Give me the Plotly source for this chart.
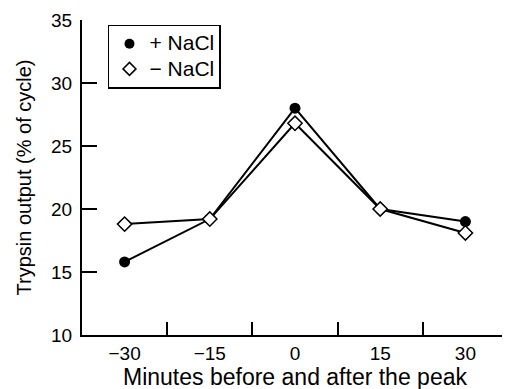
import plotly.graph_objects as go

minutes = [-30, -15, 0, 15, 30]
with_nacl = [15.8, 19.2, 28.0, 20.0, 19.0]
without_nacl = [18.8, 19.2, 26.8, 20.0, 18.1]
x_tick_labels = ["\u221230", "\u221215", "0", "15", "30"]
x_tick_marks = [-22.5, -7.5, 7.5, 22.5, 37.5]
y_ticks = [10, 15, 20, 25, 30, 35]
series_names = ["+ NaCl", "\u2212 NaCl"]

filled = dict(symbol="circle", size=11, color="black")
open_d = dict(symbol="diamond", size=11, color="white", line=dict(color="black", width=1.5))

def big(t):
    return "<span style='font-size:21px'>" + t + "</span>"

fig = go.Figure()
fig.add_trace(go.Scatter(
    x=minutes, y=with_nacl, mode="lines+markers", name=series_names[0], showlegend=False,
    line=dict(color="black", width=2), marker=filled,
))
fig.add_trace(go.Scatter(
    x=minutes, y=without_nacl, mode="lines+markers", name=series_names[1], showlegend=False,
    line=dict(color="black", width=2), marker=open_d,
))
# legend entries (markers only, as in the reference)
fig.add_trace(go.Scatter(x=[None], y=[None], mode="markers", name=big(series_names[0]),
                         marker=dict(symbol="circle", size=10, color="black")))
fig.add_trace(go.Scatter(x=[None], y=[None], mode="markers", name=big(series_names[1]),
                         marker=dict(symbol="diamond", size=10, color="white", line=dict(color="black", width=1.5))))

# the page body adds an 8px offset; margins compensate for it
font = "Liberation Sans, Arial, sans-serif"
fig.update_layout(
    width=510, height=389,
    margin=dict(l=74, r=10, t=12, b=62),
    paper_bgcolor="white", plot_bgcolor="white",
    font=dict(family=font, size=18, color="black"),
    showlegend=True,
    legend=dict(
        x=0.061, y=0.985, xanchor="left", yanchor="top",
        bordercolor="black", borderwidth=1.5, bgcolor="white",
        font=dict(size=17), tracegroupgap=0, itemwidth=30,
    ),
    xaxis=dict(
        range=[-37.5, 37.5], showgrid=False, zeroline=False, automargin=False,
        tickvals=minutes, ticktext=x_tick_labels, ticks="",
        showline=True, linecolor="black", linewidth=2,
        tickfont=dict(size=19),
        minor=dict(tickvals=x_tick_marks, ticks="inside", ticklen=13, tickwidth=2, tickcolor="black", showgrid=False),
        title=dict(text="Minutes before and after the peak", font=dict(size=23), standoff=2),
    ),
    yaxis=dict(
        range=[10, 35], showgrid=False, zeroline=False, automargin=False,
        tickvals=y_ticks, ticks="inside", ticklen=15, tickwidth=2, tickcolor="black",
        showline=True, linecolor="black", linewidth=2,
        tickfont=dict(size=19), ticklabelstandoff=4,
        title=dict(text="Trypsin output (% of cycle)", font=dict(size=20), standoff=14),
    ),
)
fig.write_html("out.html")
